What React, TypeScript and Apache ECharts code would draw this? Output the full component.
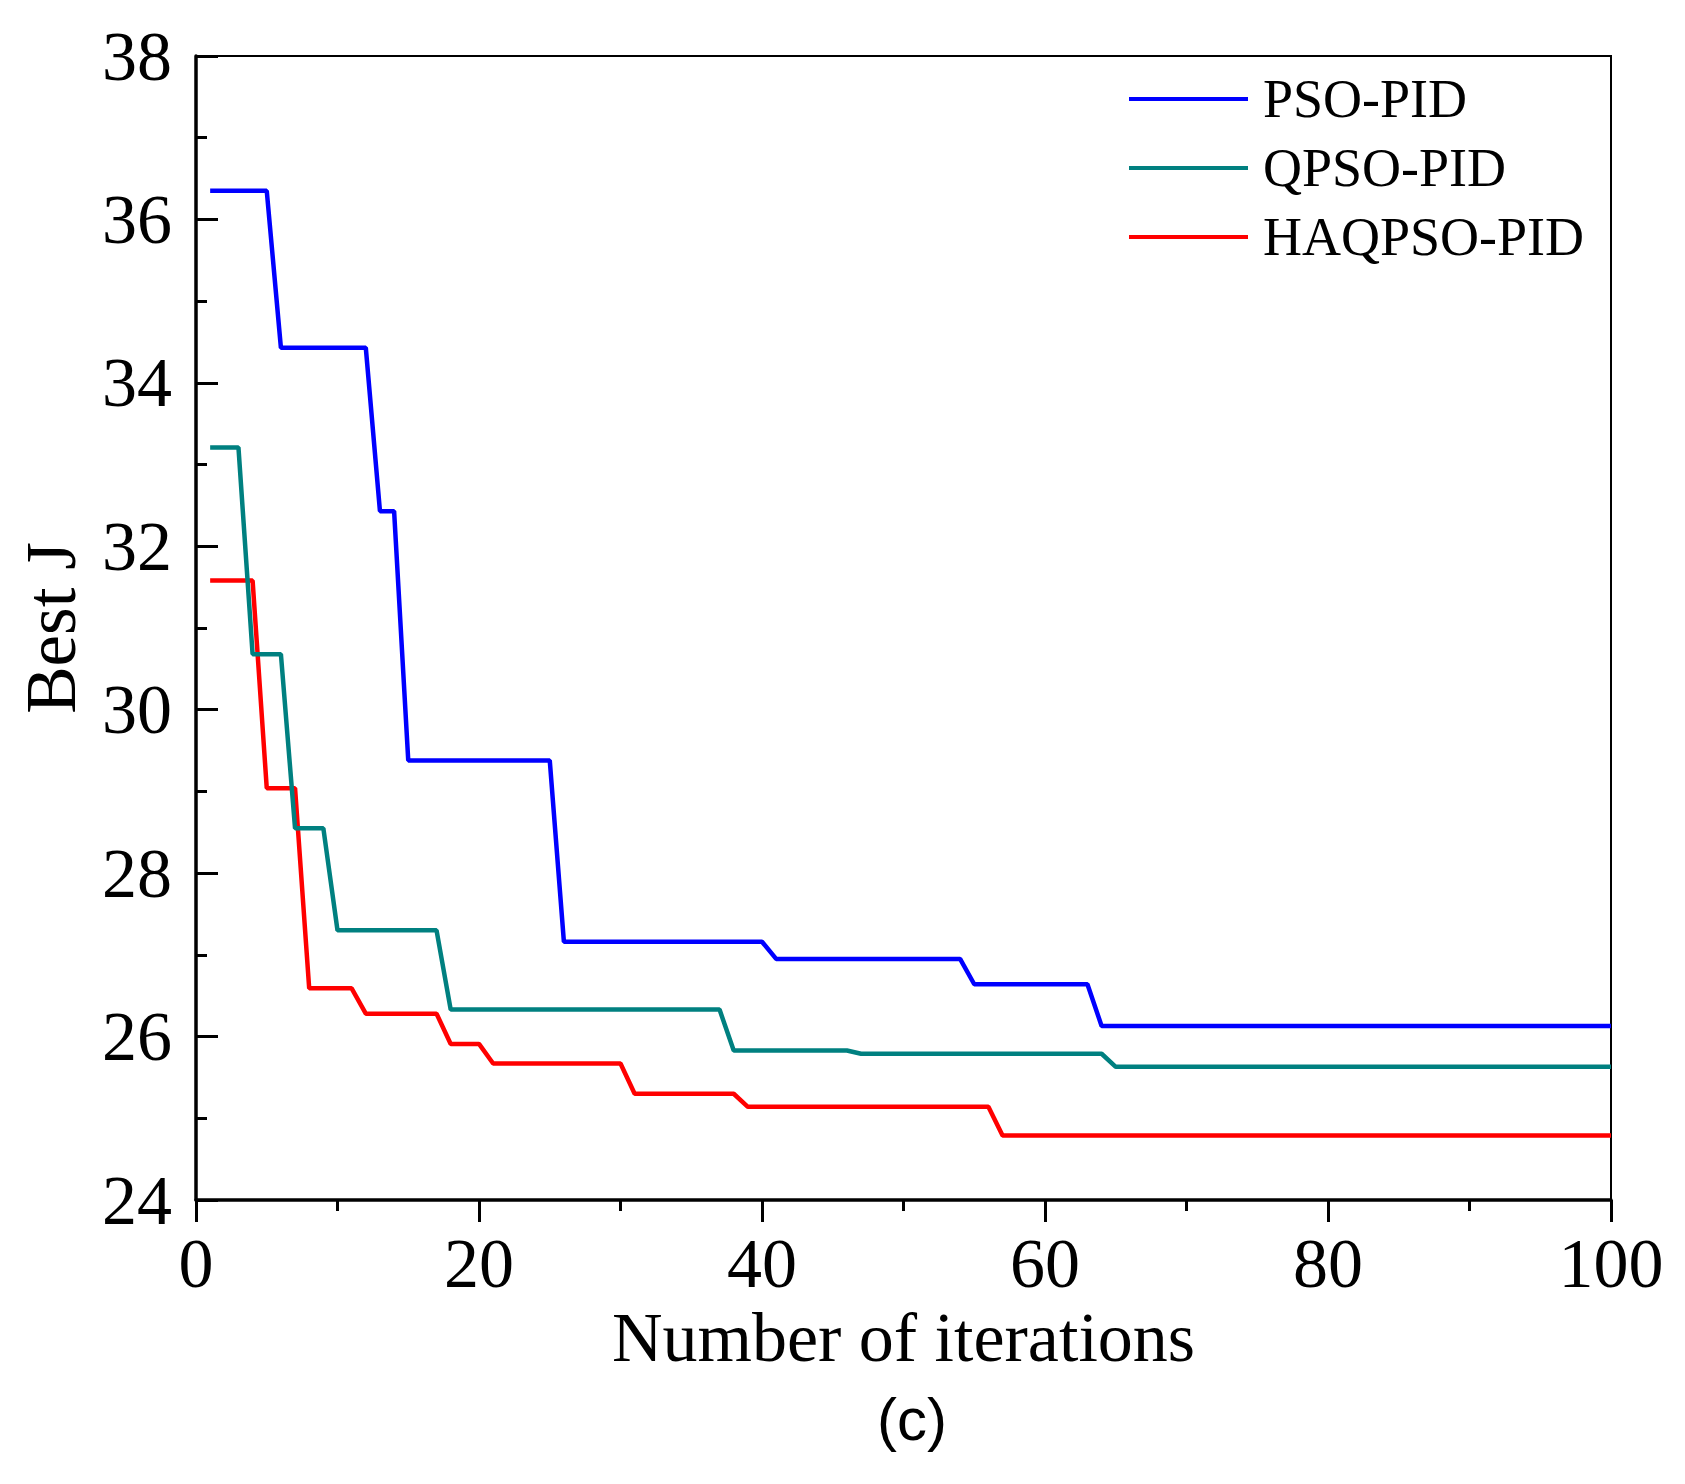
import React, { useEffect, useRef } from "react";
import * as echarts from "echarts";

const seriesNames = ["PSO-PID", "QPSO-PID", "HAQPSO-PID"];
const seriesColors = ["#0000ff", "#008080", "#ff0000"];

const psoIter = [1, 5, 6, 12, 13, 14, 15, 25, 26, 40, 41, 54, 55, 63, 64, 100];
const psoJ = [36.35, 36.35, 34.43, 34.43, 32.43, 32.43, 29.38, 29.38, 27.16, 27.16, 26.95, 26.95, 26.64, 26.64, 26.13, 26.13];

const qpsoIter = [1, 3, 4, 6, 7, 9, 10, 17, 18, 37, 38, 46, 47, 64, 65, 100];
const qpsoJ = [33.21, 33.21, 30.68, 30.68, 28.55, 28.55, 27.3, 27.3, 26.33, 26.33, 25.83, 25.83, 25.79, 25.79, 25.63, 25.63];

const haqIter = [1, 4, 5, 7, 8, 11, 12, 17, 18, 20, 21, 30, 31, 38, 39, 56, 57, 100];
const haqJ = [31.58, 31.58, 29.04, 29.04, 26.59, 26.59, 26.28, 26.28, 25.91, 25.91, 25.67, 25.67, 25.3, 25.3, 25.14, 25.14, 24.79, 24.79];

const xMin = 0, xMax = 100, xInterval = 20;
const yMin = 24, yMax = 38, yInterval = 2;

const xTitle = "Number of iterations";
const yTitle = "Best J";
const caption = "(c)";

const serif = "'Liberation Serif', 'Times New Roman', serif";
const sans = "'Liberation Sans', Arial, sans-serif";

function pairs(xs: number[], ys: number[]) {
  return xs.map((x, i) => [x, ys[i]]);
}

export default function App() {
  const ref = useRef<HTMLDivElement>(null);
  useEffect(() => {
    document.body.style.margin = "0";
    if (!ref.current) return;
    const chart = echarts.init(ref.current, undefined, { renderer: "svg" });
    const allData = [pairs(psoIter, psoJ), pairs(qpsoIter, qpsoJ), pairs(haqIter, haqJ)];
    chart.setOption({
      animation: false,
      backgroundColor: "#ffffff",
      grid: {
        left: 196,
        right: 74,
        top: 56,
        bottom: 284,
        show: true,
        borderColor: "#000",
        borderWidth: 2,
        containLabel: false,
      },
      legend: {
        orient: "vertical",
        left: 1124,
        top: 67,
        icon: "rect",
        itemWidth: 119,
        itemHeight: 4,
        itemGap: 15,
        data: seriesNames,
        textStyle: {
          fontFamily: serif,
          fontSize: 54,
          lineHeight: 52,
          color: "#000",
          padding: [0, 0, 0, 10],
        },
      },
      xAxis: {
        type: "value",
        min: xMin,
        max: xMax,
        interval: xInterval,
        name: xTitle,
        nameLocation: "middle",
        nameGap: 100,
        nameTextStyle: { fontFamily: serif, fontSize: 70, color: "#000" },
        axisLine: { show: true, lineStyle: { color: "#000", width: 3.5 } },
        axisTick: { show: true, inside: false, length: 22, lineStyle: { color: "#000", width: 3 } },
        minorTick: { show: true, splitNumber: 2, length: 11, lineStyle: { color: "#000", width: 3 } },
        splitLine: { show: false },
        minorSplitLine: { show: false },
        axisLabel: { fontFamily: serif, fontSize: 70, color: "#000", margin: 28 },
      },
      yAxis: {
        type: "value",
        min: yMin,
        max: yMax,
        interval: yInterval,
        name: yTitle,
        nameLocation: "middle",
        nameGap: 110,
        nameTextStyle: { fontFamily: serif, fontSize: 71, color: "#000" },
        axisLine: { show: true, lineStyle: { color: "#000", width: 3.5 } },
        axisTick: { show: true, inside: true, length: 22, lineStyle: { color: "#000", width: 3 } },
        minorTick: { show: true, splitNumber: 2, length: 11, lineStyle: { color: "#000", width: 3 } },
        splitLine: { show: false },
        minorSplitLine: { show: false },
        axisLabel: { fontFamily: serif, fontSize: 70, color: "#000", margin: 24 },
      },
      series: seriesNames.map((name, i) => ({
        name,
        type: "line",
        data: allData[i],
        symbol: "none",
        color: seriesColors[i],
        lineStyle: { color: seriesColors[i], width: 4.5 },
        z: 3 - i,
      })),
      graphic: [
        {
          type: "text",
          x: 912,
          y: 1419,
          style: {
            text: caption,
            fontFamily: sans,
            fontSize: 60,
            fill: "#000",
            align: "center",
            verticalAlign: "middle",
          },
        },
      ],
    });
    return () => chart.dispose();
  }, []);
  return <div ref={ref} style={{ width: 1685, height: 1484 }} />;
}
